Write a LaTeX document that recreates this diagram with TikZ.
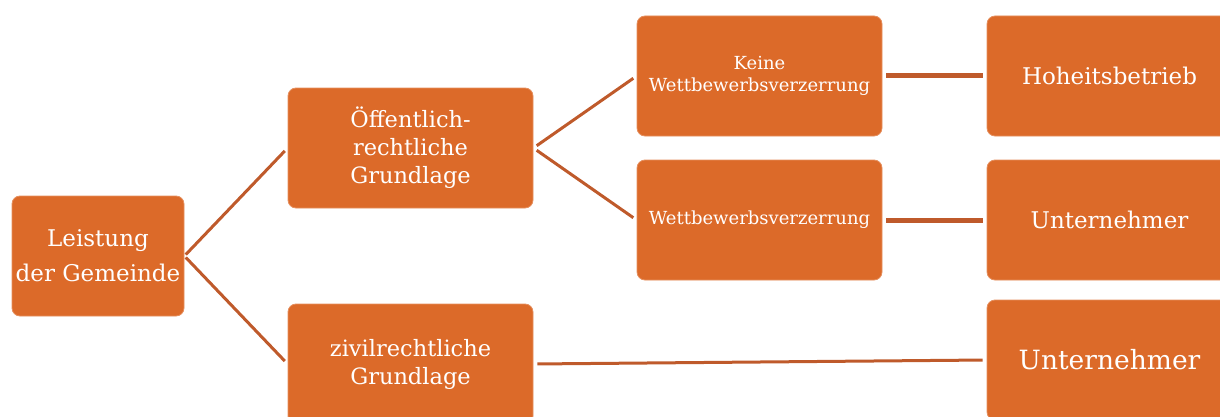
\documentclass[tikz,border=0pt]{standalone}
\usepackage{fontspec}
\setmainfont{DejaVu Serif}
\definecolor{boxfill}{HTML}{DC6A29}
\definecolor{linec}{HTML}{BF5A2B}
\begin{document}
\begin{tikzpicture}[x=1pt,y=1pt,
  box/.style={fill=boxfill, draw=boxfill!75!white, line width=0.8pt, rounded corners=8pt,
    minimum width=245pt, minimum height=120pt, inner sep=0pt, text=white, align=center},
  link/.style={draw=linec, line width=3pt},
  barlink/.style={draw=linec, line width=5pt}]
\useasboundingbox (0,0) rectangle (1220,416);
\clip (0,0) rectangle (1220,416);
\node[box, minimum width=172pt, font=\fontsize{23}{35}\selectfont] (L) at (98,160) {Leistung\\der Gemeinde};
\node[box, font=\fontsize{22.5}{28}\selectfont] (O) at (410.5,268) {Öffentlich-\\rechtliche\\Grundlage};
\node[box, font=\fontsize{22.5}{28}\selectfont] (Z) at (410.5,52) {zivilrechtliche\\Grundlage};
\node[box, font=\fontsize{18}{22}\selectfont] (K) at (759.5,340) {Keine\\Wettbewerbsverzerrung};
\node[box, font=\fontsize{18}{22}\selectfont] (W) at (759.5,196) {Wettbewerbsverzerrung};
\node[box, font=\fontsize{23}{28}\selectfont] (H) at (1109.5,340) {Hoheitsbetrieb};
\node[box, font=\fontsize{23}{28}\selectfont] (U1) at (1109.5,196) {Unternehmer};
\node[box, font=\fontsize{26.5}{30}\selectfont] (U2) at (1109.5,56) {Unternehmer};
\draw[link, shorten <=2pt, shorten >=4pt] (L.east) -- (O.west);
\draw[link, shorten <=2pt, shorten >=4pt] (L.east) -- (Z.west);
\draw[link, shorten <=4pt, shorten >=4pt] (O.east) -- (K.west);
\draw[link, shorten <=4pt, shorten >=4pt] (O.east) -- (W.west);
\draw[barlink, shorten <=4pt, shorten >=4pt] (K.east) -- (H.west);
\draw[barlink, shorten <=4pt, shorten >=4pt] (W.east) -- (U1.west);
\draw[link, shorten <=4pt, shorten >=4pt] (Z.east) -- (U2.west);
\end{tikzpicture}
\end{document}
